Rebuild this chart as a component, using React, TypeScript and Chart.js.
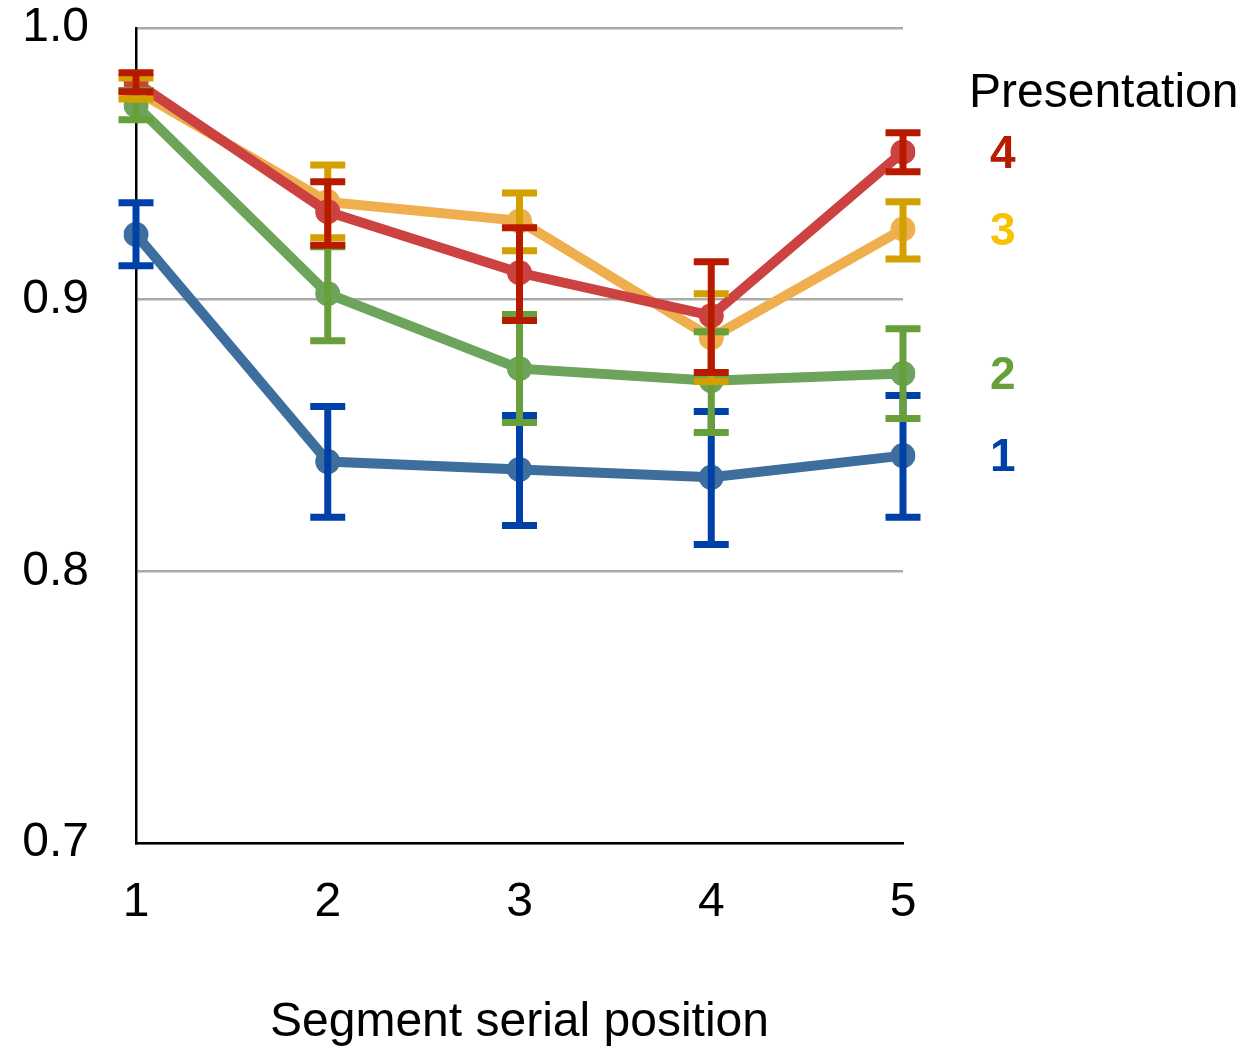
import React, { useEffect, useRef } from "react";
import { Chart, registerables } from "chart.js";

Chart.register(...registerables);

const categories = ["1", "2", "3", "4", "5"];
const yTicks = [0.7, 0.8, 0.9, 1.0];
const seriesNames = ["1", "2", "3", "4"];

const p1 = [0.924, 0.8404, 0.8375, 0.8346, 0.8426];
const p1Lo = [0.9125, 0.8199, 0.8169, 0.8099, 0.8199];
const p1Hi = [0.9357, 0.8607, 0.8574, 0.8588, 0.8647];

const p2 = [0.9715, 0.9022, 0.8746, 0.8702, 0.8728];
const p2Lo = [0.9662, 0.8849, 0.8548, 0.8511, 0.8563];
const p2Hi = [0.977, 0.9195, 0.8945, 0.8882, 0.8893];

const p3 = [0.977, 0.936, 0.929, 0.886, 0.926];
const p3Lo = [0.9739, 0.9228, 0.918, 0.8699, 0.915];
const p3Hi = [0.9816, 0.9496, 0.9393, 0.9022, 0.936];

const p4 = [0.98, 0.9324, 0.9099, 0.8941, 0.9544];
const p4Lo = [0.9765, 0.92, 0.8923, 0.8732, 0.9471];
const p4Hi = [0.9835, 0.9434, 0.9265, 0.914, 0.9614];

const lineColors = ["#3e6e9e", "#6ba45a", "#efaf4e", "#cc4240"];
const barColors = ["#0041a8", "#67a03a", "#d4a000", "#b81a00"];
const labelColors = ["#0041a8", "#67a03a", "#f7c200", "#b81c00"];

const FONT = "'Liberation Sans', Helvetica, Arial, sans-serif";

const values = [p1, p2, p3, p4];
const lows = [p1Lo, p2Lo, p3Lo, p4Lo];
const highs = [p1Hi, p2Hi, p3Hi, p4Hi];

const overlayPlugin = {
  id: "overlay",
  afterDatasetsDraw(chart: any) {
    const ctx = chart.ctx;
    const y = chart.scales.y;
    ctx.save();
    for (let d = 0; d < values.length; d++) {
      const meta = chart.getDatasetMeta(d);
      ctx.strokeStyle = barColors[d];
      ctx.lineWidth = 7;
      ctx.lineCap = "butt";
      for (let i = 0; i < values[d].length; i++) {
        const px = meta.data[i].x;
        const yl = y.getPixelForValue(lows[d][i]);
        const yh = y.getPixelForValue(highs[d][i]);
        ctx.beginPath();
        ctx.moveTo(px, yl);
        ctx.lineTo(px, yh);
        ctx.moveTo(px - 17.5, yl);
        ctx.lineTo(px + 17.5, yl);
        ctx.moveTo(px - 17.5, yh);
        ctx.lineTo(px + 17.5, yh);
        ctx.stroke();
      }
    }
    ctx.fillStyle = "#000";
    ctx.font = `48px ${FONT}`;
    ctx.textAlign = "left";
    ctx.textBaseline = "alphabetic";
    ctx.fillText("Presentation", 969, 107);
    ctx.font = `bold 46px ${FONT}`;
    ctx.textBaseline = "middle";
    for (let d = 0; d < values.length; d++) {
      const last = values[d][values[d].length - 1];
      ctx.fillStyle = labelColors[d];
      ctx.fillText(seriesNames[d], 990, y.getPixelForValue(last) + 3);
    }
    ctx.restore();
  },
};

export default function App() {
  const ref = useRef<HTMLCanvasElement>(null);
  useEffect(() => {
    document.body.style.margin = "0";
    const order = [3, 2, 1, 0];
    const chart = new Chart(ref.current!, {
      type: "line",
      data: {
        labels: categories,
        datasets: values.map((v, d) => ({
          label: seriesNames[d],
          data: v,
          borderColor: lineColors[d],
          backgroundColor: lineColors[d],
          pointBackgroundColor: lineColors[d],
          pointBorderWidth: 0,
          borderWidth: 10,
          pointRadius: 12.5,
          tension: 0,
          order: order[d],
        })),
      },
      options: {
        animation: false,
        responsive: false,
        layout: { padding: { top: 28, right: 354, left: 0, bottom: 0 } },
        plugins: { legend: { display: false }, tooltip: { enabled: false } },
        scales: {
          x: {
            type: "category",
            offset: false,
            grid: { display: false, drawTicks: false },
            border: { display: true, color: "#000", width: 2.5 },
            ticks: { color: "#000", font: { size: 48, family: FONT }, padding: 31, maxRotation: 0 },
            title: {
              display: true,
              text: "Segment serial position",
              color: "#000",
              font: { size: 48, family: FONT },
              padding: { top: 0, bottom: -3 },
            },
            afterFit(scale: any) {
              scale.height = 206;
              scale.paddingLeft = 0;
              scale.paddingRight = 0;
            },
          },
          y: {
            min: 0.7,
            max: 1.0,
            afterBuildTicks(scale: any) {
              scale.ticks = yTicks.map((v) => ({ value: v }));
            },
            grid: { color: "#aaaaaa", lineWidth: 2.5, drawTicks: false },
            border: { display: true, color: "#000", width: 2.5 },
            ticks: {
              color: "#000",
              font: { size: 48, family: FONT },
              padding: 47,
              callback: (v: any) => Number(v).toFixed(1),
            },
            afterFit(scale: any) {
              scale.width = 136;
              scale.paddingTop = 0;
              scale.paddingBottom = 0;
            },
          },
        },
      },
      plugins: [overlayPlugin],
    });
    return () => chart.destroy();
  }, []);
  return <canvas ref={ref} width={1257} height={1049} style={{ display: "block" }} />;
}
